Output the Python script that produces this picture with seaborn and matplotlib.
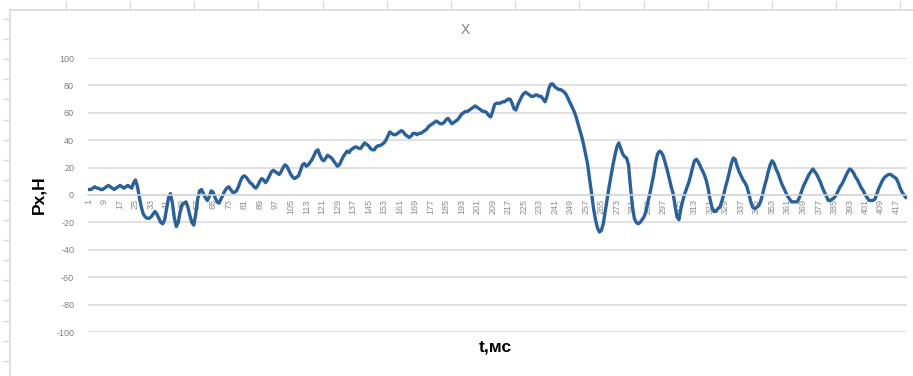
import numpy as np
import pandas as pd
import matplotlib
matplotlib.use("Agg")
import matplotlib.pyplot as plt
import seaborn as sns
from matplotlib.lines import Line2D

# ---- data ----
px_rise = [
    4, 4, 5, 6, 5, 5, 4, 4, 5, 6,
    7, 6, 5, 4, 5, 6, 7, 6, 5, 6,
    7, 6, 5, 9, 11, 6, -2, -9, -14, -16,
    -17, -17, -16, -14, -12, -14, -17, -20, -21, -18,
    -10, -2, 1, -6, -17, -23, -20, -12, -7, -6,
    -5, -9, -15, -20, -22, -14, -3, 3, 4, 1,
    -2, -4, -1, 3, 2, -2, -5, -6, -3, 0,
    3, 5, 6, 4, 2, 2, 3, 6, 10, 13,
    14, 13, 11, 9, 8, 6, 5, 7, 10, 12,
    11, 9, 11, 14, 17, 18, 17, 16, 15, 17,
    20, 22, 21, 18, 15, 13, 12, 13, 14, 18,
    22, 23, 21, 22, 24, 26, 29, 32, 33, 29,
    26, 25, 27, 29, 28, 27, 25, 23, 21, 22,
    25, 28, 30, 32, 31, 33, 34, 35, 35, 34,
    34, 36, 38, 37, 36, 34, 33, 33, 35, 36,
    36, 37, 38, 40, 43, 46, 45, 44, 44, 45,
    46, 47, 46, 44, 43, 42, 43, 45, 45, 44,
    45, 45, 46, 47, 48, 50, 51, 52, 53, 54,
    53, 52, 52, 53, 55, 56, 54, 52, 53, 54,
    55, 57, 59, 60, 61, 61, 62, 63, 64, 65,
    64, 63, 62, 61, 61, 60, 58, 57, 61, 66,
    67, 67, 67, 68, 68, 69, 70, 70, 67, 63,
    62, 66, 69, 72, 74, 75, 74, 73, 72, 72,
    73, 73, 72, 72, 70, 68, 72, 78, 81, 81,
    79, 78, 77, 77, 76, 75, 73, 70, 67, 64,
]
px_decay = [
    61, 57, 52, 47, 42, 36, 29, 22, 11, 1,
    -10, -18, -24, -27, -26, -21, -12, -3, 6, 14,
    22, 29, 35, 38, 34, 30, 28, 27, 22, 6,
    -8, -17, -20, -21, -20, -18, -16, -12, -5, 1,
    8, 15, 24, 30, 32, 31, 28, 23, 18, 12,
    6, 1, -8, -16, -18, -10, -4, 1, 5, 9,
    14, 20, 25, 26, 24, 21, 18, 15, 11, 5,
    -3, -9, -12, -12, -10, -9, -5, 0, 6, 11,
    17, 23, 27, 26, 21, 17, 14, 11, 9, 6,
    1, -5, -9, -10, -9, -8, -5, 0, 6, 11,
    17, 22, 25, 23, 19, 16, 12, 8, 5, 2,
    -1, -3, -5, -5, -5, -5, -2, 2, 6, 9,
    12, 15, 17, 19, 17, 15, 12, 9, 5, 2,
    -1, -4, -4, -3, -2, 0, 3, 6, 8, 11,
    14, 17, 19, 18, 16, 13, 11, 8, 5, 3,
    0, -2, -4, -4, -4, -3, 1, 5, 8, 11,
    13, 14, 15, 15, 14, 13, 12, 9, 5, 2,
    0, -2,
]
px_values = px_rise + px_decay
t_categories = list(range(1, len(px_values) + 1))
tick_labels = [str(v) for v in range(1, len(px_values) + 1, 8)]
y_ticks = [-100, -80, -60, -40, -20, 0, 20, 40, 60, 80, 100]

df = pd.DataFrame({"t": t_categories, "px": px_values})

# ---- style ----
sns.set_theme(style="white")
plt.rcParams["font.family"] = ["Liberation Sans", "DejaVu Sans"]

W, H = 913, 376
fig = plt.figure(figsize=(W / 100, H / 100), dpi=100)
ax = fig.add_axes([88 / W, 1 - 332 / H, 819 / W, 274 / H])

sns.lineplot(data=df, x="t", y="px", ax=ax, color="#2b6199", linewidth=2.4,
             solid_joinstyle="round", solid_capstyle="round")

for s in ["top", "right", "left"]:
    ax.spines[s].set_visible(False)
ax.spines["bottom"].set_position(("data", 0))
ax.spines["bottom"].set_color("#d9d9d9")
ax.spines["bottom"].set_linewidth(1.1)

ax.set_xlim(0.5, len(px_values) + 0.5)
ax.set_ylim(-100, 100)
ax.set_yticks(y_ticks)
ax.set_yticklabels([str(v) for v in y_ticks], fontsize=6.5, color="#7f7f7f")
ax.yaxis.grid(True, color="#d9d9d9", linewidth=1.1)
ax.set_axisbelow(True)

ax.set_xticks(list(range(1, len(px_values) + 1, 8)))
ax.set_xticklabels(tick_labels, rotation=90, fontsize=6.5, color="#8c8c8c",
                   va="top", ha="center")
ax.tick_params(axis="x", length=0, pad=3)
ax.tick_params(axis="y", length=0, pad=10)

ax.set_ylabel("Px,H", fontsize=12.5, fontweight="bold", color="black")
ax.yaxis.set_label_coords(-0.051, 0.5)
ax.set_xlabel("t,мс", fontsize=12.5, fontweight="bold", color="black")
ax.xaxis.set_label_coords(0.497, -0.027)

fig.text(465 / W, 1 - 30 / H, "X", ha="center", va="center", fontsize=10,
         color="#7f7f7f")

# outer chart frame and sheet grid marks
frame_c = "#d9d9d9"
fig.add_artist(Line2D([10 / W, 1], [1 - 10 / H, 1 - 10 / H], color=frame_c, lw=1.2))
fig.add_artist(Line2D([10 / W, 10 / W], [0, 1 - 10 / H], color=frame_c, lw=1.2))
for xp in np.arange(65.7, W, 64.2):
    fig.add_artist(Line2D([xp / W, xp / W], [1 - 2 / H, 1 - 9 / H], color=frame_c, lw=1))
for yp in np.arange(19, H, 20.1):
    fig.add_artist(Line2D([3 / W, 9 / W], [1 - yp / H, 1 - yp / H], color=frame_c, lw=1))

fig.savefig("out.png", dpi=100)
